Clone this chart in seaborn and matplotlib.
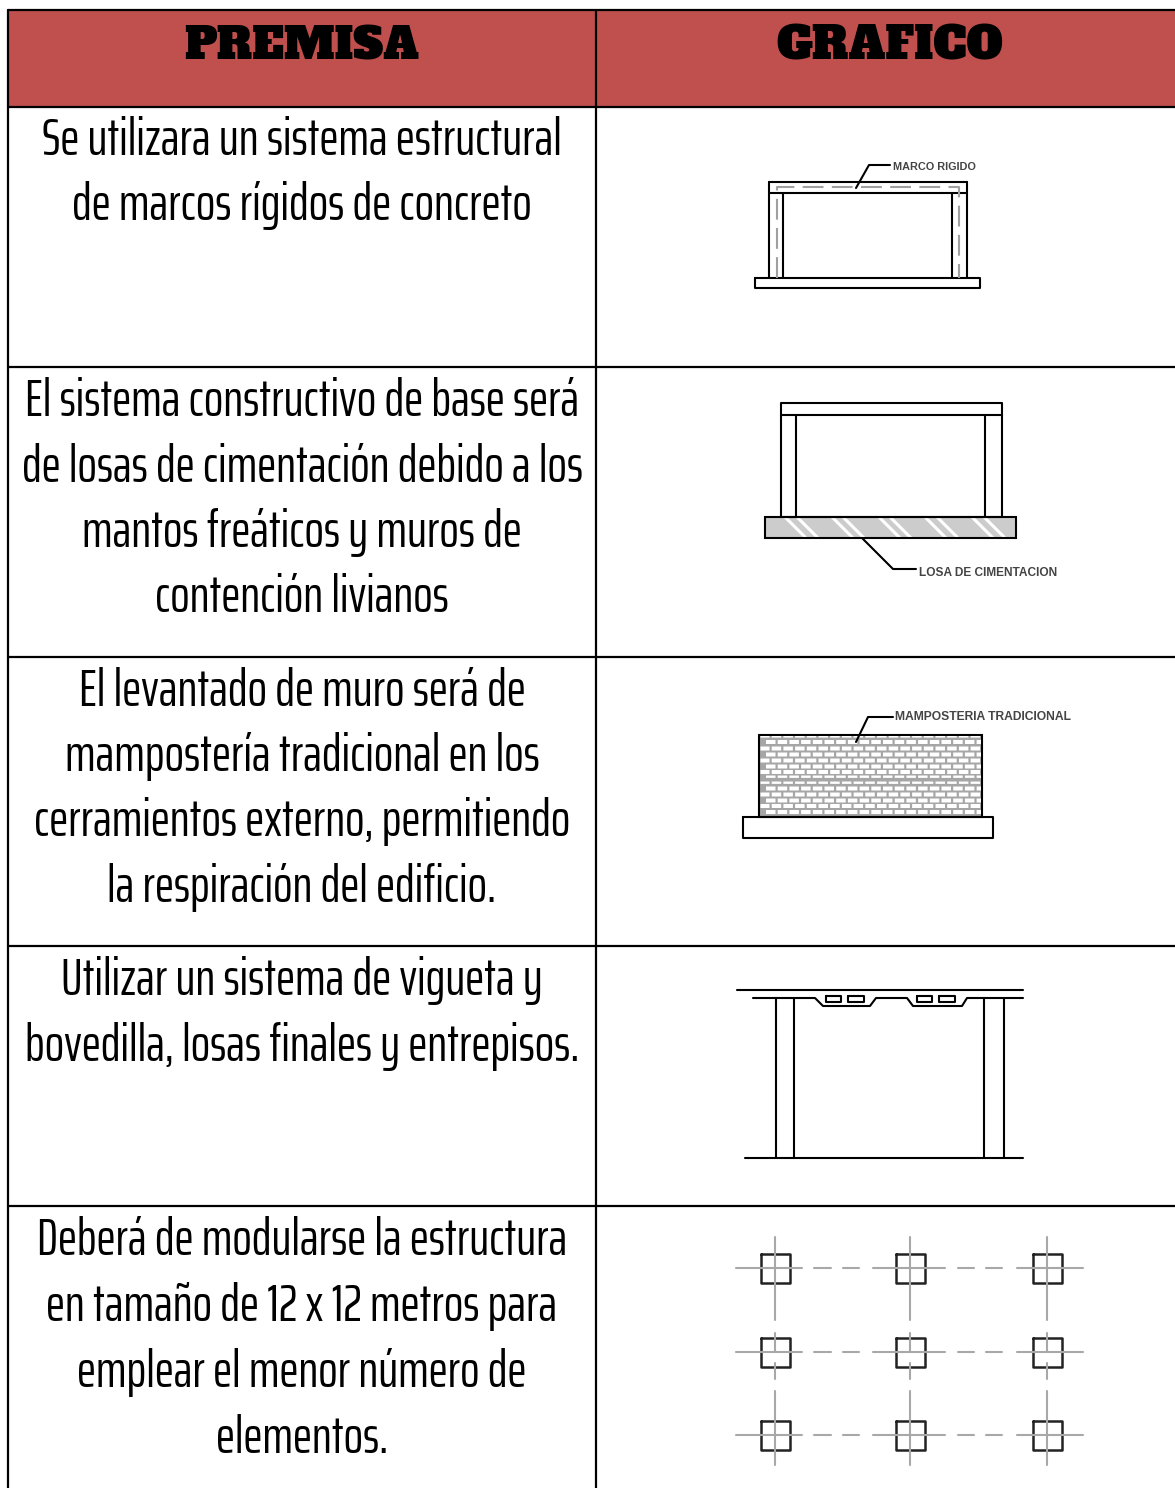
import matplotlib
matplotlib.use("Agg")
import numpy as np
import pandas as pd
import seaborn as sns
import matplotlib.pyplot as plt
from matplotlib.patches import Rectangle

# ---------------------------------------------------------
# table content
# ---------------------------------------------------------
headers = ["PREMISA", "GRAFICO"]
header_sizes = [32, 33]
premisas = [
    ["Se utilizara un sistema estructural", "de marcos rígidos de concreto"],
    ["El sistema constructivo de base será", "de losas de cimentación debido a los",
     "mantos freáticos y muros de", "contención livianos"],
    ["El levantado de muro será de", "mampostería tradicional en los",
     "cerramientos externo, permitiendo", "la respiración del edificio."],
    ["Utilizar un sistema de vigueta y", "bovedilla, losas finales y entrepisos."],
    ["Deberá de modularse la estructura", "en tamaño de 12 x 12 metros para",
     "emplear el menor número de", "elementos."],
]
# baselines of each line of text
premisa_y = [[155, 220], [416, 482, 547, 612], [706, 771, 836, 902],
             [995, 1061], [1255, 1321, 1387, 1453]]
row_edges = [10, 107, 367, 657, 946, 1206]
col_edges = [8, 596, 1175]

# drawing lines: each one is a polyline, x list / y list
marco_x = [[755, 980, 980, 755, 755], [769, 769], [967, 967], [769, 967], [769, 967], [783, 783], [952, 952], [856, 869, 890]]
marco_y = [[278, 278, 288, 288, 278], [182, 278], [182, 278], [182, 182], [193, 193], [193, 278], [193, 278], [188, 165, 165]]
marco_dash_x = [[777, 777, 959, 959]]
marco_dash_y = [[278, 187, 187, 278]]

losa_x = [[781, 1002, 1002, 781, 781], [781, 1002], [796, 796], [985, 985], [862, 893, 916]]
losa_y = [[517, 517, 403, 403, 517], [415, 415], [415, 517], [415, 517], [538, 569, 569]]
stripe_x = [785, 797, 832, 843, 879, 890, 925, 937, 972, 984]

muro_x = [[743, 993, 993, 743, 743], [856, 868, 893]]
muro_y = [[817, 817, 838, 838, 817], [742, 717, 717]]
brick_row_y = [736, 740, 746.5, 752.5, 758.5, 764.5, 770, 775.5, 781.5, 786.5, 792.5, 798.5, 804, 810]
brick_row_h = [1.6, 4, 4, 4, 4, 4, 4, 2.4, 2.4, 4, 4, 4, 4, 4]

vig_x = [[737, 1023], [753, 815, 823, 870, 876, 907, 913, 962, 967, 1023],
         [776, 776], [794, 794], [984, 984], [1004, 1004], [745, 1023],
         [826, 841, 841, 826, 826], [848, 864, 864, 848, 848],
         [917, 932, 932, 917, 917], [939, 955, 955, 939, 939]]
vig_y = [[990, 990], [998, 998, 1006, 1006, 998, 998, 1006, 1006, 998, 998],
         [998, 1158], [998, 1158], [998, 1158], [998, 1158], [1158, 1158],
         [996, 996, 1002, 1002, 996], [996, 996, 1002, 1002, 996],
         [996, 996, 1002, 1002, 996], [996, 996, 1002, 1002, 996]]

mod_cols = [775, 910, 1047]
mod_rows = [1268, 1352, 1435]
mod_half = 14.5
mod_h_spans = [(736, 802), (814, 831), (843, 859), (873, 945), (958, 974), (986, 1002), (1017, 1083)]
mod_v_spans = [(1237, 1320), (1333, 1352), (1363, 1379), (1391, 1465)]

labels = [("MARCO RIGIDO", 893, 167, 82), ("LOSA DE CIMENTACION", 919, 573, 141),
          ("MAMPOSTERIA TRADICIONAL", 895, 717, 175)]

# ---------------------------------------------------------
# figure
# ---------------------------------------------------------
sns.set_theme(style="white")
plt.rcParams['font.family'] = ['Saira ExtraCondensed', 'Roboto Condensed', 'DejaVu Sans']

fig, ax = plt.subplots(figsize=(11.75, 14.88), dpi=100)
ax.set_position([0, 0, 1, 1])
ax.set_xlim(0, 1175)
ax.set_ylim(1488, 0)
ax.axis('off')


def draw_lines(xs, ys, color='black', lw=1.5, ls='-'):
    df = pd.DataFrame({
        'x': [v for line in xs for v in line],
        'y': [v for line in ys for v in line],
        'line': [i for i, line in enumerate(xs) for _ in line],
    })
    sns.lineplot(data=df, x='x', y='y', units='line', estimator=None, sort=False,
                 color=color, lw=lw, ls=ls, ax=ax, legend=False, zorder=4)


# header fill
ax.add_patch(Rectangle((8, 10), 1167, 97, fc='#C0504D', ec='none', zorder=1))

# grid
grid_x = [[8, 1175] for _ in row_edges] + [[c, c] for c in col_edges[:2]]
grid_y = [[r, r] for r in row_edges] + [[10, 1488] for _ in col_edges[:2]]
draw_lines(grid_x, grid_y, lw=1.6)

# text
for x, h, size in zip([302, 890], headers, header_sizes):
    ax.text(x, 59, h, ha='center', va='baseline', fontsize=size,
            family=['Alfa Slab One', 'DejaVu Serif'], color='black', zorder=5)
for lines, ys in zip(premisas, premisa_y):
    for s, y in zip(lines, ys):
        ax.text(302, y, s, ha='center', va='baseline', fontsize=36.8, fontweight='normal',
                color='black', zorder=5)

# marco rigido
draw_lines(marco_x, marco_y)
draw_lines(marco_dash_x, marco_dash_y, color='#a0a0a0', lw=1.5, ls=(0, (10, 4)))

# losa
ax.add_patch(Rectangle((765, 517), 251, 21, fc='#cccccc', ec='none', zorder=2))
draw_lines([[x, x + 21] for x in stripe_x], [[517, 538] for _ in stripe_x], color='white', lw=2.2)
ax.add_patch(Rectangle((765, 517), 251, 21, fc='none', ec='black', lw=1.5, zorder=4))
draw_lines(losa_x, losa_y)

# muro de ladrillo
ax.add_patch(Rectangle((759, 735), 223, 82, fc='#a6a6a6', ec='black', lw=1.5, zorder=2))
for i, (y, h) in enumerate(zip(brick_row_y, brick_row_h)):
    for x in np.arange(760 + (i % 2) * 6, 982, 11.7):
        x0, x1 = max(x, 760.5), min(x + 9.5, 981)
        if x1 > x0:
            ax.add_patch(Rectangle((x0, y), x1 - x0, h, fc='white', ec='none', zorder=3, snap=False))
draw_lines(muro_x, muro_y)

# vigueta y bovedilla
draw_lines(vig_x, vig_y)

# modulacion
gx, gy = [], []
for y in mod_rows:
    for a, b in mod_h_spans:
        gx.append([a, b])
        gy.append([y, y])
for x in mod_cols:
    for a, b in mod_v_spans:
        gx.append([x, x])
        gy.append([a, b])
sx, sy = [], []
for x in mod_cols:
    for y in mod_rows:
        sx.append([x - mod_half, x + mod_half, x + mod_half, x - mod_half, x - mod_half])
        sy.append([y - mod_half, y - mod_half, y + mod_half, y + mod_half, y - mod_half])
draw_lines(sx, sy, color='#222222', lw=1.8)
draw_lines(gx, gy, color='#a8a8a8', lw=1.5)

# tiny labels, fitted to the width they take in the reference
for s, x, y, w in labels:
    ax.text(x, y, s, ha='left', va='center', fontsize=w / len(s) * 1.15,
            family=['Liberation Sans', 'DejaVu Sans'], fontweight='bold', color='#444444', zorder=5)

fig.savefig('out.png', dpi=100)
